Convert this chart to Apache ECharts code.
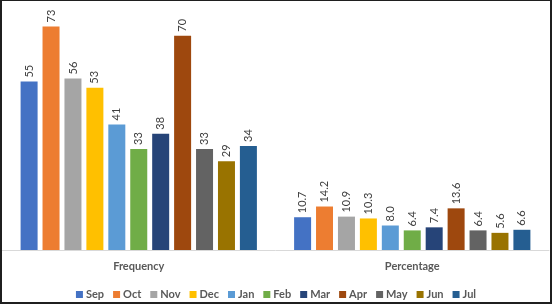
<!DOCTYPE html>
<html><head><meta charset="utf-8">
<script src="https://cdn.jsdelivr.net/npm/echarts@6/dist/echarts.min.js"></script>
<style>
html,body{margin:0;padding:0;background:#fff;}
#wrap{width:552px;height:304px;box-sizing:border-box;border-style:solid;border-color:#1f1f1f;border-width:1px 2px 2px 2px;background:#fff;}
#chart{width:548px;height:301px;}
</style></head>
<body><div id="wrap"><div id="chart"></div></div>
<script>
const categories = ["Frequency", "Percentage"];
const months = ["Sep","Oct","Nov","Dec","Jan","Feb","Mar","Apr","May","Jun","Jul"];
const frequency = [55, 73, 56, 53, 41, 33, 38, 70, 33, 29, 34];
const percentage = [10.7, 14.2, 10.9, 10.3, 8.0, 6.4, 7.4, 13.6, 6.4, 5.6, 6.6];
const colors = ["#4472C4","#ED7D31","#A5A5A5","#FFC000","#5B9BD5","#70AD47","#264478","#9E480E","#636363","#997300","#255E91"];

const font = "Lato, 'Open Sans', sans-serif";
const chart = echarts.init(document.getElementById('chart'));
const series = months.map((m, i) => ({
  name: m,
  type: 'bar',
  barWidth: 17,
  barGap: '29%',
  data: [frequency[i], percentage[i]],
  itemStyle: { color: colors[i] },
  label: {
    show: true,
    position: 'top',
    rotate: 90,
    align: 'left',
    verticalAlign: 'middle',
    distance: 4,
    color: '#404040',
    fontSize: 11,
    fontFamily: font,
    formatter: (p) => p.dataIndex === 1 ? Number(p.value).toFixed(1) : String(p.value)
  }
}));
chart.setOption({
  animation: false,
  color: colors,
  grid: { left: 0, right: 1, top: 4, bottom: 52, containLabel: false },
  xAxis: {
    type: 'category',
    data: categories,
    axisLine: { lineStyle: { color: '#d9d9d9', width: 1 } },
    axisTick: { show: false },
    axisLabel: { color: '#595959', fontSize: 11, fontWeight: 'bold', fontFamily: font, margin: 11 }
  },
  yAxis: { type: 'value', min: 0, max: 80, show: false, splitLine: { show: false } },
  legend: {
    data: months,
    bottom: 2,
    padding: 0,
    left: 'center',
    itemWidth: 7,
    itemHeight: 7,
    itemGap: 9,
    icon: 'rect',
    textStyle: { color: '#595959', fontSize: 11, fontWeight: 'bold', fontFamily: font, padding: [0,0,0,-2] }
  },
  series: series
});
</script></body></html>
